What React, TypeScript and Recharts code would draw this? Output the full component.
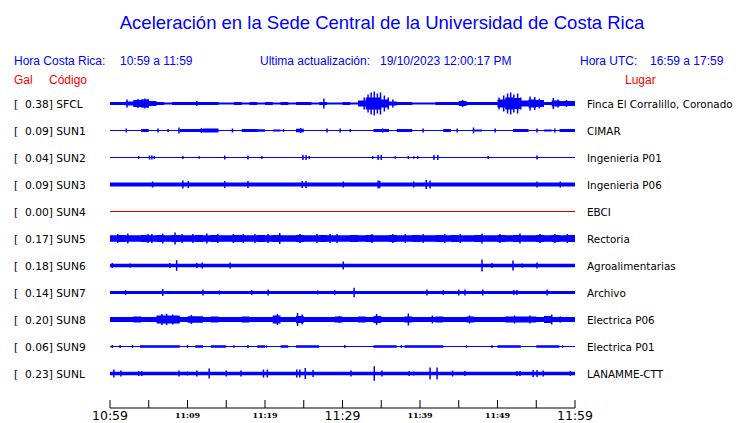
import React from 'react';
import { ComposedChart, Area, Scatter, ErrorBar, XAxis, YAxis } from 'recharts';

// ---------- data ----------
const codes = ['SFCL', 'SUN1', 'SUN2', 'SUN3', 'SUN4', 'SUN5', 'SUN6', 'SUN7', 'SUN8', 'SUN9', 'SUNL'];
const gal = [0.38, 0.09, 0.04, 0.09, 0.0, 0.17, 0.18, 0.14, 0.2, 0.06, 0.23];
const places = [
  'Finca El Corralillo, Coronado', 'CIMAR', 'Ingenieria P01', 'Ingenieria P06', 'EBCI', 'Rectoria',
  'Agroalimentarias', 'Archivo', 'Electrica P06', 'Electrica P01', 'LANAMME-CTT',
];
const traceColors = ['#0000ff', '#0000ff', '#0000ff', '#0000ff', '#d40000', '#0000ff', '#0000ff', '#0000ff', '#0000ff', '#0000ff', '#0000ff'];

const timeTicks = [0, 5, 10, 15, 20, 25, 30, 35, 40, 45, 50, 55, 60];
const timeLabels = ['10:59', '', '11:09', '', '11:19', '', '11:29', '', '11:39', '', '11:49', '', '11:59'];
const majorLabels = ['10:59', '11:29', '11:59'];

// envelope half-amplitude per minute (minute 0..59), in amplitude units
const envSFCL = [1.5, 1.5, 2, 3.5, 4, 2.5, 1.5, 1, 1.5, 1.5, 1.5, 1.5, 1.5, 1.5, 1, 1, 1.5, 1, 1.5, 1, 1.5, 1, 1.5, 1, 1.5, 1.5, 1, 1.5, 1, 1, 1.5, 1, 3, 6, 6, 4, 2, 1.5, 1.5, 1, 1, 1, 1.5, 1.5, 1.5, 2.5, 1.5, 1.5, 1.5, 1.5, 4, 6, 5.5, 3, 4, 3.5, 1.5, 3, 2.5, 2.5];
const envSUN1 = [0.5, 0.5, 0.5, 0.5, 1.5, 0.5, 0.5, 0.5, 0.5, 1.5, 1.5, 1.5, 2, 2, 0.5, 0.5, 0.5, 1.5, 1.5, 1.2, 0.5, 1, 0.5, 0.5, 1.8, 0.5, 0.5, 0.5, 0.5, 0.5, 0.5, 0.5, 0.5, 0.5, 1.5, 1.5, 0.5, 1.5, 1.5, 0.5, 0.5, 0.5, 0.5, 1.5, 0.5, 0.5, 0.5, 1, 0.5, 0.5, 0.5, 0.5, 1.5, 1.5, 0.5, 0.5, 1, 0.5, 1.5, 1.5];
const envSUN2 = [0.5, 0.5, 0.5, 0.5, 0.5, 0.5, 0.5, 0.5, 0.5, 0.5, 0.5, 0.5, 0.5, 0.5, 0.5, 0.5, 0.5, 0.5, 0.5, 0.5, 0.5, 0.5, 0.5, 0.5, 0.5, 0.5, 0.5, 0.5, 0.5, 0.5, 0.5, 0.5, 0.5, 0.5, 0.5, 0.5, 0.5, 0.5, 0.5, 0.5, 0.5, 0.5, 0.5, 0.5, 0.5, 0.5, 0.5, 0.5, 0.5, 0.5, 0.5, 0.5, 0.5, 0.5, 0.5, 0.5, 0.5, 0.5, 0.5, 0.5];
const envSUN3 = [2, 2, 2, 2, 2, 2, 2, 2, 2, 2, 2, 2, 2, 2, 2, 2, 2, 2, 2, 2, 2, 2, 2, 2, 2, 2, 2, 2, 2, 2, 2, 2, 2, 2, 2, 2, 2, 2, 2, 2, 2, 2, 2, 2, 2, 2, 2, 2, 2, 2, 2, 2, 2, 2, 2, 2, 2, 2, 2, 2];
const envSUN4 = [0.5, 0.5, 0.5, 0.5, 0.5, 0.5, 0.5, 0.5, 0.5, 0.5, 0.5, 0.5, 0.5, 0.5, 0.5, 0.5, 0.5, 0.5, 0.5, 0.5, 0.5, 0.5, 0.5, 0.5, 0.5, 0.5, 0.5, 0.5, 0.5, 0.5, 0.5, 0.5, 0.5, 0.5, 0.5, 0.5, 0.5, 0.5, 0.5, 0.5, 0.5, 0.5, 0.5, 0.5, 0.5, 0.5, 0.5, 0.5, 0.5, 0.5, 0.5, 0.5, 0.5, 0.5, 0.5, 0.5, 0.5, 0.5, 0.5, 0.5];
const envSUN5 = [3.3, 3.5, 3.3, 3.3, 3.5, 3.3, 3.5, 3.3, 3.5, 3.3, 3.3, 3.5, 3.3, 3.5, 3.3, 3.3, 3.5, 3.3, 3.3, 3.5, 3.3, 3.5, 3.3, 3.3, 3.5, 3.3, 3.3, 3.5, 3.3, 3.3, 3.3, 3.5, 3.3, 3.5, 3.3, 3.3, 3.5, 3.3, 3.3, 3.5, 3.3, 3.3, 3.5, 3.3, 3.5, 3.3, 3.3, 3.5, 3.3, 3.3, 3.5, 3.3, 3.5, 3.3, 3.3, 3.5, 3.3, 3.5, 3.3, 3.5];
const envSUN6 = [1.8, 1.8, 1.8, 1.8, 1.8, 1.8, 1.8, 1.8, 1.8, 1.8, 1.8, 1.8, 1.8, 1.8, 1.8, 1.8, 1.8, 1.8, 1.8, 1.8, 1.8, 1.8, 1.8, 1.8, 1.8, 1.8, 1.8, 1.8, 1.8, 1.8, 1.8, 1.8, 1.8, 1.8, 1.8, 1.8, 1.8, 1.8, 1.8, 1.8, 1.8, 1.8, 1.8, 1.8, 1.8, 1.8, 1.8, 1.8, 1.8, 1.8, 1.8, 1.8, 1.8, 1.8, 1.8, 1.8, 1.8, 1.8, 1.8, 1.8];
const envSUN7 = [1.6, 1.6, 1.6, 1.6, 1.6, 1.6, 1.6, 1.6, 1.6, 1.6, 1.6, 1.6, 1.6, 1.6, 1.6, 1.6, 1.6, 1.6, 1.6, 1.6, 1.6, 1.6, 1.6, 1.6, 1.6, 1.6, 1.6, 1.6, 1.6, 1.6, 1.6, 1.6, 1.6, 1.6, 1.6, 1.6, 1.6, 1.6, 1.6, 1.6, 1.6, 1.6, 1.6, 1.6, 1.6, 1.6, 1.6, 1.6, 1.6, 1.6, 1.6, 1.6, 1.6, 1.6, 1.6, 1.6, 1.6, 1.6, 1.6, 1.6];
const envSUN8 = [2.5, 2.5, 2.5, 3, 2.5, 2.5, 4, 4, 4, 2.5, 3.3, 3.3, 2.5, 3, 2.5, 2.5, 2.5, 3, 2.5, 2.5, 2.5, 4, 2.5, 2.5, 3.5, 2.5, 2.5, 2.5, 2.5, 3, 2.5, 2.5, 3, 2.5, 3.5, 2.5, 2.5, 2.5, 3, 2.5, 2.5, 2.5, 3, 2.5, 2.5, 2.5, 3, 2.5, 2.5, 2.5, 2.5, 3, 3, 3, 3, 2.5, 3.5, 2.5, 2.5, 2.5];
const envSUN9 = [0.5, 0.5, 0.5, 0.5, 1.2, 1.2, 1.2, 1.2, 1.2, 0.5, 0.5, 1.2, 0.5, 1.2, 1.2, 0.5, 0.5, 0.5, 0.5, 1.2, 0.5, 0.5, 1.2, 0.5, 1.2, 1.2, 1.2, 0.5, 0.5, 0.5, 0.5, 0.5, 0.5, 0.5, 1.2, 1.2, 1.2, 0.5, 1.2, 1.2, 1.2, 1.2, 1.2, 0.5, 0.5, 0.5, 0.5, 0.5, 0.5, 0.5, 1.2, 1.2, 1.2, 0.5, 0.5, 1.2, 1.2, 1.2, 0.5, 0.5];
const envSUNL = [1.7, 1.7, 1.7, 1.7, 1.7, 1.7, 1.7, 1.7, 1.7, 1.7, 1.7, 1.7, 1.7, 1.7, 1.7, 1.7, 1.7, 1.7, 1.7, 1.7, 1.7, 1.7, 1.7, 1.7, 1.7, 1.7, 1.7, 1.7, 1.7, 1.7, 1.7, 1.7, 1.7, 1.7, 1.7, 1.7, 1.7, 1.7, 1.7, 1.7, 1.7, 1.7, 1.7, 1.7, 1.7, 1.7, 1.7, 1.7, 1.7, 1.7, 1.7, 1.7, 1.7, 1.7, 1.7, 1.7, 1.7, 1.7, 1.7, 1.7];

// individual peaks: [minute, half-amplitude]
const spikesSFCL: [number, number][] = [[2.2, 4], [3.6, 4.5], [4.2, 4], [4.5, 5], [4.9, 4.5], [11.2, 2.5], [27.6, 5], [32.8, 6], [33.3, 9], [33.7, 11], [34.1, 12], [34.5, 10], [34.9, 11], [35.4, 8], [35.9, 6], [36.5, 4], [45.5, 3.5], [50.2, 6], [50.8, 8], [51.3, 10], [51.7, 11], [52.1, 9], [52.6, 10], [53.0, 6], [54.2, 7], [54.8, 6.5], [55.4, 5], [57.2, 5.5], [57.8, 4], [58.9, 3.5]];
const spikesSUN1: [number, number][] = [[2.1, 2], [6.2, 2], [7.5, 1.5], [8.9, 3], [11.8, 2.5], [15.8, 2], [22.4, 1.5], [24.6, 2.5], [28, 2], [29.7, 2], [31, 1.5], [35.2, 2], [40.4, 2], [44.8, 2], [46.9, 3], [49.7, 2], [55.1, 2], [57.4, 2]];
const spikesSUN2: [number, number][] = [[3.7, 1.5], [5.1, 2], [5.4, 2], [5.7, 1.5], [9.4, 1.5], [11.5, 1.2], [14.8, 2], [17.8, 2], [19.6, 1.5], [24.9, 2.5], [25.3, 2.5], [25.7, 1.5], [33.9, 1.5], [34.6, 2.5], [35, 2.5], [36.8, 1.2], [38.5, 1.5], [39.2, 1.2], [39.7, 1.5], [41.8, 2.5], [42.3, 2.5], [48.8, 1.5], [55.1, 2]];
const spikesSUN3: [number, number][] = [[5.5, 3], [9.4, 4], [10.1, 3.5], [14.8, 3.5], [17.8, 3.5], [24.8, 3.5], [25.3, 3.5], [30.1, 3], [34.6, 4], [34.8, 3.5], [39.2, 3], [40.8, 4.5], [41.3, 4], [55.1, 3], [58.1, 3]];
const spikesSUN4: [number, number][] = [];
const spikesSUN5: [number, number][] = [[1.0, 4.5], [2.3, 5], [4.9, 4.5], [5.4, 4.5], [6.8, 5], [8.4, 6], [9.3, 4.5], [10.7, 4.5], [12.5, 5], [13.9, 4.5], [15.9, 4.5], [17.2, 4.5], [18.7, 4.5], [20.4, 4.5], [21.9, 5.5], [24.5, 4.5], [26.7, 4.5], [28.4, 4.5], [29.3, 4.5], [33.8, 4.5], [36.5, 4.5], [38.1, 4.5], [40.4, 4.5], [43.2, 4.5], [45.2, 4.5], [48, 5], [50.3, 4.5], [52.9, 5], [55.5, 4.5], [57.4, 4.5], [59, 4.5]];
const spikesSUN6: [number, number][] = [[0.3, 2.5], [2.6, 2], [7.7, 2.5], [8.6, 5.3], [11.2, 2.5], [11.9, 3], [15.5, 3], [30.1, 4], [48, 6], [49.3, 2.5], [52, 5], [53.2, 2], [55.1, 3]];
const spikesSUN7: [number, number][] = [[2, 2.5], [6.8, 3.5], [12, 3], [14.1, 2], [18.3, 2.5], [20.4, 3], [26.8, 2], [29, 2.5], [31.5, 4.8], [40.9, 3], [43, 2.5], [45, 3], [45.8, 3], [48.1, 3], [52.1, 2.5], [52.5, 2.5], [56.4, 3]];
const spikesSUN8: [number, number][] = [[6.7, 5.5], [7.3, 5.7], [8.1, 5], [10.5, 4.5], [21.6, 5.5], [24.2, 6.5], [24.8, 5], [29.6, 3.5], [34.4, 5.5], [38.5, 6], [41.6, 4], [46.4, 4], [52.2, 4], [54.2, 4], [57.0, 5], [58.1, 3]];
const spikesSUN9: [number, number][] = [[0.3, 1.5], [1.3, 1.5], [2.9, 1.5], [4, 1.5], [10, 1.5], [16, 1.2], [17.8, 1.5], [20.2, 1.2], [30.3, 1.5], [37.6, 1.5], [46, 1.2], [49.3, 1.5], [58.4, 1.2]];
const spikesSUNL: [number, number][] = [[0.5, 4], [1.4, 3], [3.7, 2.5], [4.1, 2.5], [8.9, 3], [10, 2], [11.2, 3], [12.8, 5], [15, 3], [16.9, 3], [19.8, 4], [20.3, 4], [24.1, 4], [24.5, 4], [25.2, 5.5], [26.2, 3.5], [31.1, 3], [34.1, 7.3], [35.1, 3], [38.6, 2.5], [39.2, 2], [41.3, 6], [42.2, 6], [44.2, 3], [45.8, 2.5], [52.5, 2.5], [52.9, 2.5], [54.6, 3.5], [55.1, 3.5], [55.9, 3], [59.4, 2.5]];

const envelopes = [envSFCL, envSUN1, envSUN2, envSUN3, envSUN4, envSUN5, envSUN6, envSUN7, envSUN8, envSUN9, envSUNL];
const spikes = [spikesSFCL, spikesSUN1, spikesSUN2, spikesSUN3, spikesSUN4, spikesSUN5, spikesSUN6, spikesSUN7, spikesSUN8, spikesSUN9, spikesSUNL];

// ---------- chart config ----------
const ROW_UNITS = 27; // amplitude units per trace row
const N = codes.length;
const Y_MAX = N;
const Y_MIN = N - 331.5 / ROW_UNITS;
const center = (k: number) => N - 1 - k;

const minutes = envSFCL.map((_, i) => i).concat([60]);
const table = minutes.map((t) => {
  const row: any = { t };
  envelopes.forEach((env, k) => {
    const e = env[Math.min(t, env.length - 1)] / ROW_UNITS;
    row['r' + k] = [center(k) - e, center(k) + e];
  });
  return row;
});
const spikeData = spikes.map((list, k) => list.map(([t, a]) => ({ t, y: center(k), e: a / ROW_UNITS })));
const rowTicks = codes.map((_, k) => center(k));

const BLUE = '#0000ff';
const RED = '#ff0000';
const SANS = '"Liberation Sans", Arial, sans-serif';
const DEJAVU = '"DejaVu Sans", sans-serif';

const LeftTick = (p: any) => {
  const k = N - 1 - Math.round(p.payload.value);
  return (
    <text x={14} y={p.y} dy={4} fontFamily={DEJAVU} fontSize={10.7} fill="#000" style={{ whiteSpace: 'pre' }}>
      {`[  ${gal[k].toFixed(2)}] ${codes[k]}`}
    </text>
  );
};
const RightTick = (p: any) => {
  const k = N - 1 - Math.round(p.payload.value);
  return (
    <text x={p.x} y={p.y} dy={4} fontFamily={DEJAVU} fontSize={10.4} fill="#000" textAnchor="start">
      {places[k]}
    </text>
  );
};
const TimeTick = (p: any) => {
  const label = timeLabels[timeTicks.indexOf(p.payload.value)] || '';
  const major = majorLabels.includes(label);
  return (
    <text
      x={p.x}
      y={p.y + (major ? 12 : 10)}
      textAnchor="middle"
      fontFamily={major ? DEJAVU : '"DejaVu Serif", serif'}
      fontWeight={major ? 'normal' : 'bold'}
      fontSize={major ? 12.5 : 8}
      fill="#000"
    >
      {label}
    </text>
  );
};

export default function App() {
  return (
    <div style={{ position: 'absolute', left: 0, top: 0, width: 740, height: 423, background: '#fff' }}>
      <ComposedChart width={740} height={423} data={table} margin={{ top: 76.5, right: 0, bottom: 0, left: 0 }}>
        <XAxis
          dataKey="t"
          type="number"
          domain={[0, 60]}
          ticks={timeTicks}
          interval={0}
          height={15}
          tickSize={-8}
          tickMargin={8}
          axisLine={{ stroke: '#000' }}
          tickLine={{ stroke: '#000' }}
          tick={(p: any) => <TimeTick {...p} />}
        />
        <YAxis
          yAxisId="L"
          type="number"
          domain={[Y_MIN, Y_MAX]}
          allowDataOverflow
          ticks={rowTicks}
          interval={0}
          width={110}
          axisLine={false}
          tickLine={false}
          tick={(p: any) => <LeftTick {...p} />}
        />
        <YAxis
          yAxisId="R"
          orientation="right"
          type="number"
          domain={[Y_MIN, Y_MAX]}
          allowDataOverflow
          ticks={rowTicks}
          interval={0}
          width={165}
          tickSize={0}
          tickMargin={12}
          axisLine={false}
          tickLine={false}
          tick={(p: any) => <RightTick {...p} />}
        />
        {codes.map((c, k) => (
          <Area
            key={'a' + c}
            yAxisId="L"
            type="stepAfter"
            dataKey={'r' + k}
            stroke="none"
            fill={traceColors[k]}
            fillOpacity={1}
            dot={false}
            activeDot={false}
            isAnimationActive={false}
          />
        ))}
        {codes.map((c, k) => (
          <Scatter
            key={'s' + c}
            yAxisId="L"
            data={spikeData[k]}
            dataKey="y"
            shape={() => <g />}
            isAnimationActive={false}
          >
            <ErrorBar dataKey="e" direction="y" width={0} stroke={traceColors[k]} strokeWidth={1.5} isAnimationActive={false} />
          </Scatter>
        ))}
      </ComposedChart>
      <svg width={740} height={423} style={{ position: 'absolute', left: 0, top: 0, pointerEvents: 'none' }}>
        <text x={382} y={29} textAnchor="middle" fontFamily={SANS} fontSize={18.5} fill={BLUE}>
          Aceleración en la Sede Central de la Universidad de Costa Rica
        </text>
        <g fontFamily={SANS} fontSize={12} fill={BLUE}>
          <text x={14} y={65}>Hora Costa Rica:</text>
          <text x={120} y={65}>10:59 a 11:59</text>
          <text x={260} y={65}>Ultima actualización:</text>
          <text x={380} y={65}>19/10/2023 12:00:17 PM</text>
          <text x={580} y={65}>Hora UTC:</text>
          <text x={650} y={65}>16:59 a 17:59</text>
        </g>
        <g fontFamily={SANS} fontSize={12} fill={RED}>
          <text x={14} y={84}>Gal</text>
          <text x={49} y={84}>Código</text>
          <text x={625} y={84}>Lugar</text>
        </g>
      </svg>
    </div>
  );
}
